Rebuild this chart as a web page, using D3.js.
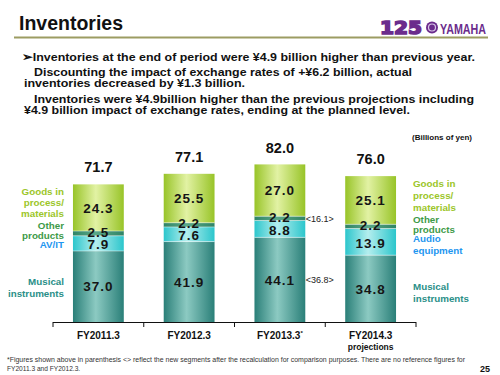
<!DOCTYPE html>
<html><head><meta charset="utf-8">
<script src="https://cdn.jsdelivr.net/npm/d3@7"></script>
<style>
html,body{margin:0;padding:0;background:#fff;}
svg{display:block;font-family:"Liberation Sans",Arial,sans-serif;}
</style></head>
<body>
<svg id="c" width="500" height="375"></svg>
<script>
const categories = ["FY2011.3", "FY2012.3", "FY2013.3", "FY2014.3"];
const musical = [37.0, 41.9, 44.1, 34.8];
const avit = [7.9, 7.6, 8.8, 13.9];
const other = [2.5, 2.2, 2.2, 2.2];
const goods = [24.3, 25.5, 27.0, 25.1];
const totals = [71.7, 77.1, 82.0, 76.0];
const seriesNames = ["Musical instruments", "AV/IT", "Other products", "Goods in process/materials"];
const seriesValues = [musical, avit, other, goods];
const recalc = [{cat: "FY2013.3", y: 44.1 + 8.8 + 1.1, label: "<16.1>"}, {cat: "FY2013.3", y: 22, label: "<36.8>"}];

const svg = d3.select("#c");
const defs = svg.append("defs");
function grad(id, edge, mid) {
  const g = defs.append("linearGradient").attr("id", id).attr("x1", "0%").attr("x2", "100%");
  g.append("stop").attr("offset", "0%").attr("stop-color", edge);
  g.append("stop").attr("offset", "45%").attr("stop-color", mid);
  g.append("stop").attr("offset", "100%").attr("stop-color", edge);
}
grad("gMI", "#2a7f78", "#8ccac2");
grad("gAV", "#2cc6cc", "#b4eeee");
grad("gOT", "#2f8466", "#5aa888");
grad("gGD", "#98c428", "#e2f2a4");
const fills = ["url(#gMI)", "url(#gAV)", "url(#gOT)", "url(#gGD)"];

// Header
svg.append("text").attr("x", 19).attr("y", 30).attr("font-size", 19.5).attr("font-weight", "bold").attr("fill", "#111").text("Inventories");
svg.append("line").attr("x1", 14).attr("x2", 488).attr("y1", 37.5).attr("y2", 37.5).attr("stroke", "#9c9c62").attr("stroke-width", 2);
// Logo
const logo = svg.append("g").attr("fill", "#6b2c8c");
logo.append("text").attr("x", 380).attr("y", 34).attr("font-size", 18).attr("font-weight", "900")
  .attr("font-family", "DejaVu Sans").attr("stroke", "#6b2c8c").attr("stroke-width", 1.6)
  .attr("textLength", 42).attr("lengthAdjust", "spacingAndGlyphs").text("125");
logo.append("circle").attr("cx", 432).attr("cy", 27.5).attr("r", 6).attr("fill", "#6b2c8c");
logo.append("circle").attr("cx", 432).attr("cy", 27.5).attr("r", 3.5).attr("fill", "none").attr("stroke", "#d8c8e8").attr("stroke-width", 1.2);
logo.append("text").attr("x", 440).attr("y", 34).attr("font-size", 14).attr("font-weight", "bold").attr("textLength", 46).attr("lengthAdjust", "spacingAndGlyphs").text("YAMAHA");

// Body text
const body = [
  {x: 22, y: 61, t: "➢Inventories at the end of period were ¥4.9 billion higher than previous year.", w: 453},
  {x: 34, y: 76, t: "Discounting the impact of exchange rates of +¥6.2 billion, actual", w: 378},
  {x: 24, y: 87, t: "inventories decreased by ¥1.3 billion.", w: 221},
  {x: 34, y: 103, t: "Inventories were ¥4.9billion higher than the previous projections including", w: 440},
  {x: 24, y: 114, t: "¥4.9 billion impact of exchange rates, ending at the planned level.", w: 386}
];
svg.selectAll("text.body").data(body).enter().append("text").attr("class", "body")
  .attr("x", d => d.x).attr("y", d => d.y).attr("font-size", 11.5).attr("font-weight", "bold").attr("fill", "#111")
  .attr("textLength", d => d.w).attr("lengthAdjust", "spacingAndGlyphs").text(d => d.t);

svg.append("text").attr("x", 472).attr("y", 140).attr("text-anchor", "end").attr("font-size", 8).attr("font-weight", "bold").attr("fill", "#111").text("(Billions of yen)");

// Scales
const x = d3.scaleBand().domain(categories).range([53, 416]).paddingInner(0.44).paddingOuter(0.22);
const y = d3.scaleLinear().domain([0, 82]).range([322, 164.6]);

// stacked data
const rows = categories.map((c, i) => { const o = {cat: c}; seriesNames.forEach((s, j) => o[s] = seriesValues[j][i]); return o; });
const stack = d3.stack().keys(seriesNames)(rows);

const gBars = svg.append("g");
stack.forEach((layer, j) => {
  gBars.selectAll(null).data(layer).enter().append("rect")
    .attr("x", d => x(d.data.cat)).attr("width", x.bandwidth())
    .attr("y", d => y(d[1])).attr("height", d => y(d[0]) - y(d[1]))
    .attr("fill", fills[j]);
});
// thin separators
stack.slice(0, 3).forEach(layer => {
  gBars.selectAll(null).data(layer).enter().append("line")
    .attr("x1", d => x(d.data.cat)).attr("x2", d => x(d.data.cat) + x.bandwidth())
    .attr("y1", d => y(d[1])).attr("y2", d => y(d[1])).attr("stroke", "#ffffff").attr("stroke-opacity", 0.6).attr("stroke-width", 0.8);
});
// value labels
stack.forEach((layer, j) => {
  gBars.selectAll(null).data(layer).enter().append("text")
    .attr("x", d => x(d.data.cat) + x.bandwidth() / 2)
    .attr("y", d => (y(d[0]) + y(d[1])) / 2 + 5 + (j === 2 ? -1.5 : (j === 1 ? 1 : 0)))
    .attr("text-anchor", "middle").attr("font-size", 13.5).attr("font-weight", "bold").attr("fill", "#151515")
    .attr("letter-spacing", 1)
    .text(d => (d[1] - d[0]).toFixed(1));
});
// totals
svg.selectAll("text.tot").data(categories).enter().append("text").attr("class", "tot")
  .attr("x", c => x(c) + x.bandwidth() / 2).attr("y", (c, i) => y(totals[i]) - 12)
  .attr("text-anchor", "middle").attr("font-size", 14.5).attr("fill", "#111").attr("font-weight", "bold")
  .text((c, i) => totals[i].toFixed(1));

// recalculated annotations
svg.selectAll("text.rc").data(recalc).enter().append("text").attr("class", "rc")
  .attr("x", d => x(d.cat) + x.bandwidth() + 0.5).attr("y", d => y(d.y) + 3.5)
  .attr("font-size", 9).attr("fill", "#222").text(d => d.label);

// axis
const axis = svg.append("g");
axis.append("line").attr("x1", 53).attr("x2", 416).attr("y1", 322.5).attr("y2", 322.5).attr("stroke", "#111").attr("stroke-width", 1);
const ticks = categories.map(c => x(c) - x.step() * x.paddingInner() / 2).concat([416]);
axis.selectAll(null).data(ticks).enter().append("line")
  .attr("x1", d => d).attr("x2", d => d).attr("y1", 322).attr("y2", 327).attr("stroke", "#111");
const xl = axis.selectAll("text.xl").data(categories).enter().append("text").attr("class", "xl")
  .attr("x", c => x(c) + x.bandwidth() / 2).attr("y", 339).attr("text-anchor", "middle")
  .attr("font-size", 10).attr("font-weight", "bold").attr("fill", "#111");
xl.append("tspan").text(c => c);
xl.filter(c => c === "FY2013.3").append("tspan").attr("dy", -4).attr("font-size", 6).text("*");
axis.append("text").attr("x", x("FY2014.3") + x.bandwidth() / 2).attr("y", 350).attr("text-anchor", "middle")
  .attr("font-size", 8.5).attr("font-weight", "bold").attr("fill", "#111").text("projections");

// side labels
const leftLabels = [
  {t: "Goods in", y: 195, c: "#9cc62a"}, {t: "process/", y: 206, c: "#9cc62a"}, {t: "materials", y: 217, c: "#9cc62a"},
  {t: "Other", y: 229, c: "#3e9a48"}, {t: "products", y: 239, c: "#3e9a48"}, {t: "AV/IT", y: 248, c: "#1e96f0"},
  {t: "Musical", y: 285, c: "#2a8f88"}, {t: "instruments", y: 297, c: "#2a8f88"}
];
svg.selectAll("text.ll").data(leftLabels).enter().append("text").attr("class", "ll")
  .attr("x", 64).attr("y", d => d.y).attr("text-anchor", "end").attr("font-size", 9.8).attr("font-weight", "bold")
  .attr("fill", d => d.c).text(d => d.t);
const rightLabels = [
  {t: "Goods in", y: 187, c: "#9cc62a"}, {t: "process/", y: 199, c: "#9cc62a"}, {t: "materials", y: 211, c: "#9cc62a"},
  {t: "Other", y: 223, c: "#3e9a48"}, {t: "products", y: 233, c: "#3e9a48"},
  {t: "Audio", y: 242, c: "#1e96f0"}, {t: "equipment", y: 254, c: "#1e96f0"},
  {t: "Musical", y: 290, c: "#2a8f88"}, {t: "instruments", y: 302, c: "#2a8f88"}
];
svg.selectAll("text.rl").data(rightLabels).enter().append("text").attr("class", "rl")
  .attr("x", 413).attr("y", d => d.y).attr("font-size", 9.8).attr("font-weight", "bold")
  .attr("fill", d => d.c).text(d => d.t);

// footnote
svg.append("text").attr("x", 7).attr("y", 362).attr("font-size", 6.6).attr("fill", "#333")
  .attr("textLength", 458).attr("lengthAdjust", "spacingAndGlyphs")
  .text("*Figures shown above in parenthesis <> reflect the new segments after the recalculation for comparison purposes. There are no reference figures for");
svg.append("text").attr("x", 7).attr("y", 371).attr("font-size", 6.6).attr("fill", "#333").text("FY2011.3 and FY2012.3.");
svg.append("text").attr("x", 480).attr("y", 372).attr("font-size", 9).attr("font-weight", "bold").attr("fill", "#111").text("25");
</script>
</body></html>
